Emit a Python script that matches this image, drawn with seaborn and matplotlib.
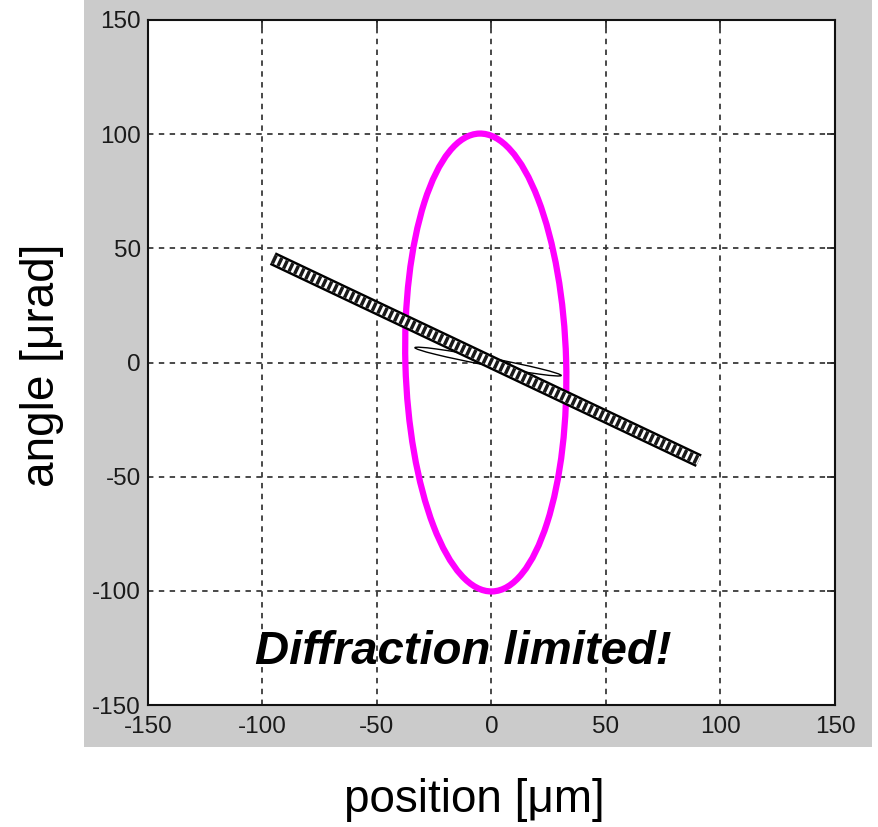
import numpy as np
import matplotlib
matplotlib.use("Agg")
import matplotlib.pyplot as plt
from matplotlib.patches import Ellipse, Rectangle
import seaborn as sns

# axis ticks (both axes share them)
x_ticks = [-150, -100, -50, 0, 50, 100, 150]
y_ticks = [-150, -100, -50, 0, 50, 100, 150]

# striped bar (phase-space line), end points
bar_x = [-95.5, 90.5]
bar_y = [45.5, -43.0]

# magenta phase-space ellipse: centre, full width / height, tilt (deg)
beam_center = (-2.5, 0.0)
beam_size = (70.2, 200.6)
beam_tilt = 1.6

# thin black ellipse (diffraction limited beam)
diff_center = (-1.5, 0.4)
diff_size = (65.0, 3.4)
diff_tilt = -10.8

note_text = "Diffraction limited!"
x_label = "position [μm]"
y_label = "angle [μrad]"

sns.set_style("white")
plt.rcParams["font.family"] = ["Liberation Sans", "DejaVu Sans"]
plt.rcParams["text.color"] = "black"

W, H = 879, 827
fig = plt.figure(figsize=(W / 100, H / 100), dpi=100)

# grey matlab-like figure background
fig.patches.append(Rectangle((84 / W, 1 - 747 / H), (872 - 84) / W, 747 / H,
                             transform=fig.transFigure, facecolor="#cbcbcb",
                             edgecolor="none", zorder=-10))

ax = fig.add_axes([148 / W, 1 - 705 / H, 687 / W, 685 / H])
ax.set_zorder(1)
ax.set_facecolor("white")
ax.set_xlim(-150, 150)
ax.set_ylim(-150, 150)
ax.set_xticks(x_ticks)
ax.set_yticks(y_ticks)
ax.set_xticklabels([str(t) for t in x_ticks])
ax.set_yticklabels([str(t) for t in y_ticks])
ax.tick_params(direction="in", length=6, width=1.2, colors="#222222",
               labelcolor="#1a1a1a", labelsize=17.5, top=True, right=True)
ax.tick_params(axis="x", pad=8)
ax.tick_params(axis="y", pad=5)
for s in ax.spines.values():
    s.set_color("#111111")
    s.set_linewidth(1.5)
ax.grid(True, color="#3a3a3a", linestyle=(0, (3, 3)), linewidth=1.3)
ax.set_axisbelow(True)

# magenta ellipse
ax.add_patch(Ellipse(beam_center, beam_size[0], beam_size[1], angle=beam_tilt,
                     fill=False, edgecolor="#ff00ff", linewidth=4.5, zorder=3))

# thin black ellipse
ax.add_patch(Ellipse(diff_center, diff_size[0], diff_size[1], angle=diff_tilt,
                     fill=False, edgecolor="black", linewidth=1.0, zorder=4))

# striped bar: black outline, white core, black dash stripes
sns.lineplot(x=bar_x, y=bar_y, ax=ax, color="black", linewidth=10,
             solid_capstyle="butt", zorder=5)
sns.lineplot(x=bar_x, y=bar_y, ax=ax, color="white", linewidth=6.5,
             solid_capstyle="butt", zorder=6)
ax.plot(bar_x, bar_y, color="#1a1a1a", linewidth=6.5, dashes=(0.38, 0.3),
        dash_capstyle="butt", zorder=7)

ax.text(-12.4, -127, note_text, fontsize=34, fontweight="bold",
        fontstyle="italic", ha="center", va="center", color="black", zorder=8)

ax.set_xlabel("")
ax.set_ylabel("")

fig.text(474 / W, 1 - 800 / H, x_label, fontsize=33, ha="center", va="center",
         color="black")
fig.text(42 / W, 1 - 365 / H, y_label, fontsize=33, rotation=90,
         ha="center", va="center", color="black")

fig.savefig("out.png", dpi=100)
